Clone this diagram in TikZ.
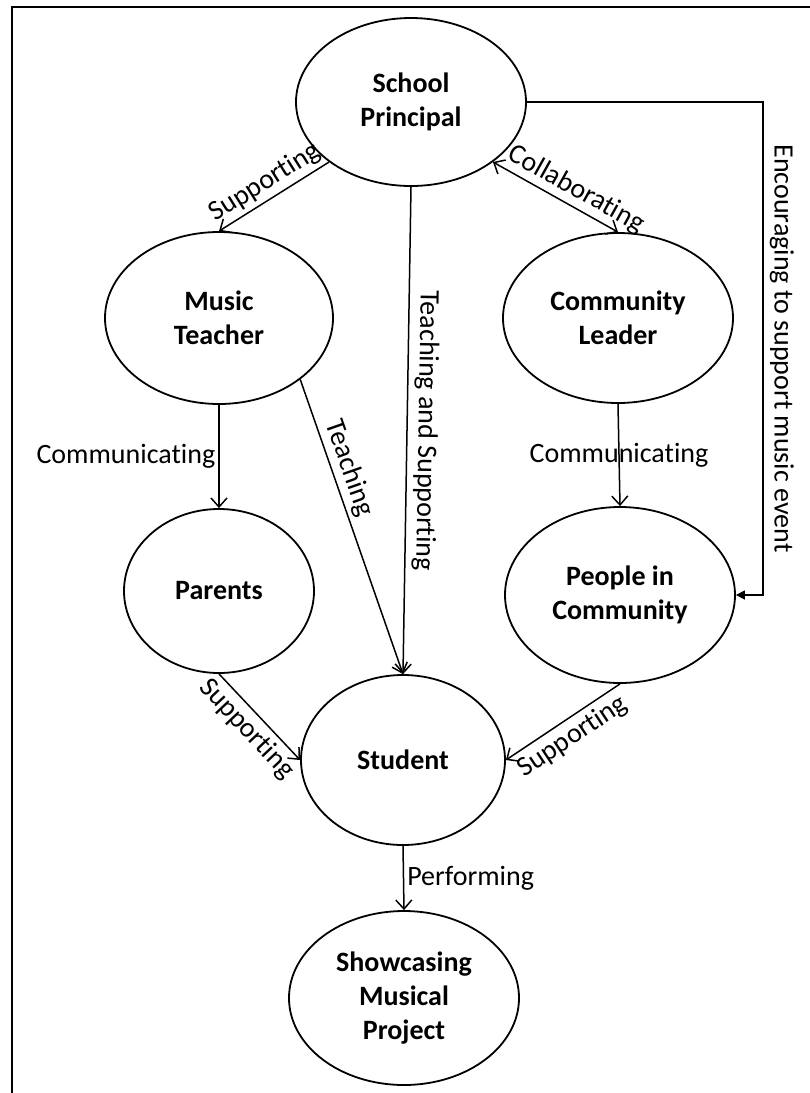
\documentclass[tikz,border=0pt]{standalone}
\usepackage{fontspec}
\setmainfont{Carlito}[Ligatures=NoCommon]
\usetikzlibrary{shapes.geometric,arrows.meta}
\tikzset{
  ell/.style={ellipse, draw, line width=1.8pt, inner sep=2pt, align=center,
    font=\fontsize{28}{34}\selectfont\bfseries},
  conn/.style={line width=1.5pt, -{Straight Barb[length=9pt,width=16pt,line width=1.5pt]}},
  lbl/.style={font=\fontsize{28}{34}\selectfont, inner sep=4pt},
}
\begin{document}
\begin{tikzpicture}[x=1pt,y=-1pt]
\useasboundingbox (0,0) rectangle (810,1093);
\draw[line width=2.6pt] (12,1093) -- (12,7) -- (810,7);

\node[ell, minimum width=230pt, minimum height=168pt] (P) at (411,102) {School\\Principal};
\node[ell, minimum width=228pt, minimum height=172pt] (MT) at (219,318) {Music\\Teacher};
\node[ell, minimum width=230pt, minimum height=170pt] (CL) at (618,318) {Community\\Leader};
\node[ell, minimum width=190pt, minimum height=164pt] (PA) at (219,591) {Parents};
\node[ell, minimum width=230pt, minimum height=176pt] (PC) at (620,595) {People in\\Community};
\node[ell, minimum width=204pt, minimum height=170pt] (ST) at (403,760) {Student};
\node[ell, minimum width=230pt, minimum height=174pt] (SH) at (404,998) {Showcasing\\Musical\\Project};

\coordinate (bend) at (763,102);

\draw[conn] (P.south west) -- node[lbl, sloped, above] {Supporting} (MT.north);
\draw[conn, {Straight Barb[length=9pt,width=16pt,line width=1.5pt]}-{Straight Barb[length=9pt,width=16pt,line width=1.5pt]}]
  (P.south east) -- node[lbl, sloped, above, pos=0.6] {Collaborating} (CL.north);
\draw[conn] (P.south) -- node[lbl, sloped, allow upside down, above, inner sep=6pt] {Teaching and Supporting} (ST.north);
\draw[line width=1.5pt, -{Triangle[length=9pt,width=9pt]}] (P.east) -- (bend) |-
  node[lbl, sloped, above, pos=0.25, inner sep=6pt] {Encouraging to support music event} (PC.east);
\draw[conn] (MT.south) -- node[lbl, left, inner sep=3pt] {Communicating} (PA.north);
\draw[conn] (MT.south east) -- node[lbl, sloped, above, pos=0.32] {Teaching} (ST.north);
\draw[conn] (CL.south) -- node[lbl] {Communicating} (PC.north);
\draw[conn] (PA.south) -- node[lbl, sloped, below, inner sep=5pt] {Supporting} (ST.west);
\draw[conn] (PC.south) -- node[lbl, sloped, below, inner sep=5pt] {Supporting} (ST.east);
\draw[conn] (ST.south) -- node[lbl, right, inner sep=3pt] {Performing} (SH.north);
\end{tikzpicture}
\end{document}
